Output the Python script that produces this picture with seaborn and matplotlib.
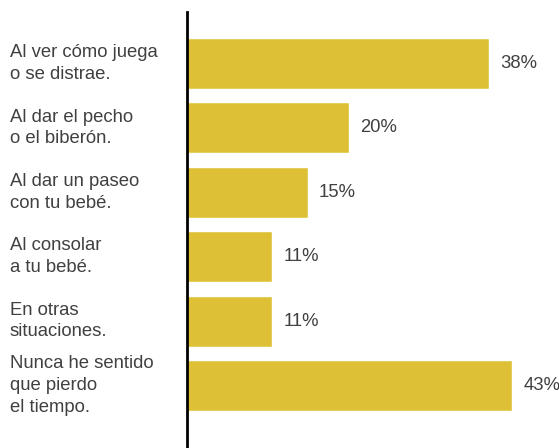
import matplotlib
matplotlib.use("Agg")
import matplotlib.pyplot as plt
import matplotlib.transforms as mtransforms
import pandas as pd
import seaborn as sns

# categorías y valores
categorias = [
    "Al ver cómo juega\no se distrae.",
    "Al dar el pecho\no el biberón.",
    "Al dar un paseo\ncon tu bebé.",
    "Al consolar\na tu bebé.",
    "En otras\nsituaciones.",
    "Nunca he sentido\nque pierdo\nel tiempo.",
]
porcentajes = [38, 20, 15, 11, 11, 43]
# longitud de barra medida en la imagen
longitudes = [38.2, 20.5, 15.3, 10.8, 10.8, 41.2]

data = pd.DataFrame({"Categoria": categorias, "Valor": longitudes, "Etiqueta": porcentajes})

sns.set_style("white")
plt.rcParams["font.family"] = ["Liberation Sans", "DejaVu Sans"]

fig = plt.figure(figsize=(5.59, 4.48), dpi=100)
ax = fig.add_axes([187 / 559, 0, (559 - 187) / 559, (448 - 12) / 448])

sns.barplot(data=data, x="Valor", y="Categoria", color="#DEC036", saturation=1,
            width=0.79, ax=ax)

ax.set_xlim(0, 47.1)
ax.set_ylim(5.97, -0.8)
ax.set_xlabel("")
ax.set_ylabel("")
ax.set_xticks([])
ax.set_yticks([])
for lado in ["top", "right", "bottom"]:
    ax.spines[lado].set_visible(False)
ax.spines["left"].set_color("black")
ax.spines["left"].set_linewidth(2)

# textos a la izquierda
trans = mtransforms.blended_transform_factory(fig.transFigure, ax.transData)
for i, cat in enumerate(categorias):
    ax.text(10 / 559, i, cat, transform=trans, ha="left", va="center",
            fontsize=13.3, color="#404040", linespacing=1.36)

# porcentajes
for i, (v, p) in enumerate(zip(longitudes, porcentajes)):
    ax.annotate(f"{p}%", (v, i), xytext=(8, 0), textcoords="offset points",
                ha="left", va="center", fontsize=13.3, color="#404040")

fig.savefig("out.png", dpi=100)
